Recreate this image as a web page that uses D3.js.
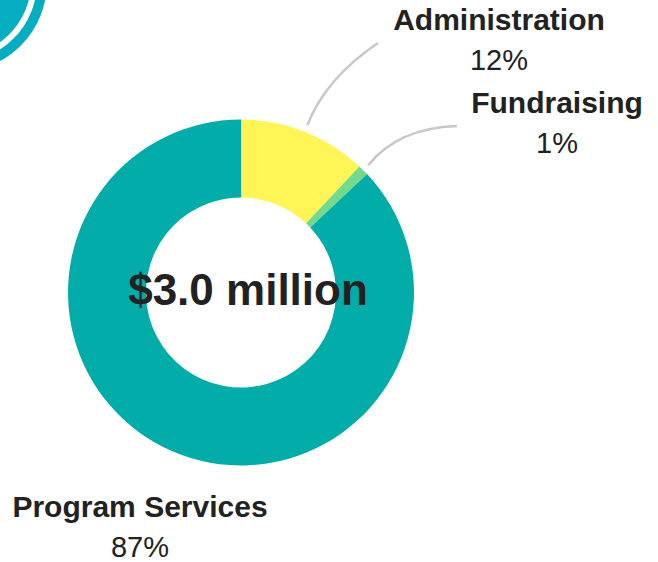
<!DOCTYPE html>
<html>
<head>
<meta charset="utf-8">
<script src="https://cdn.jsdelivr.net/npm/d3@7"></script>
<style>
  html, body { margin: 0; padding: 0; background: #fff; }
  svg { display: block; font-family: "Liberation Sans", Arial, sans-serif; }
</style>
</head>
<body>
<div class="chart"><svg></svg></div>
<script>
"use strict";

const categories = ['Administration', 'Fundraising', 'Program Services'];
const shares = [12, 1, 87];
const pctLabels = ['12%', '1%', '87%'];
const colors = ['#fff556', '#72da8a', '#02ada9'];
const totalLabel = '$3.0 million';

const WIDTH = 658;
const HEIGHT = 562;
const CX = 241, CY = 292.5;
const R_OUT = 173, R_IN = 95;

const svg = d3.select('.chart').select('svg')
    .attr('width', WIDTH)
    .attr('height', HEIGHT);

// decorative circle in the top-left corner
const deco = svg.append('g').attr('transform', 'translate(-43,-18)');
deco.append('circle').attr('r', 74).attr('fill', '#04adc0');
deco.append('circle').attr('r', 85).attr('fill', 'none')
    .attr('stroke', '#04adc0').attr('stroke-width', 10);

const data = categories.map((c, i) => ({name: c, value: shares[i], pct: pctLabels[i], color: colors[i]}));

const pie = d3.pie().sort(null).value(d => d.value);
const arc = d3.arc().innerRadius(R_IN).outerRadius(R_OUT);
const arcs = pie(data);

const gPie = svg.append('g').attr('transform', `translate(${CX},${CY})`);
gPie.selectAll('path')
    .data(arcs)
    .join('path')
    .attr('d', arc)
    .attr('fill', d => d.data.color);

// label positions and connector bends (layout only)
const labelPos = {
    'Administration':   {x: 499, y: 30,  ctrl: [326, 78],  end: [378, 43]},
    'Fundraising':      {x: 557, y: 113, ctrl: [398, 128], end: [457, 126]},
    'Program Services': {x: 140, y: 517}
};

arcs.forEach(d => {
    const p = labelPos[d.data.name];
    if (p.end) {
        // start the connector just outside the slice, at its mid angle
        const mid = (d.startAngle + d.endAngle) / 2;
        const s = [CX + 180 * Math.sin(mid), CY - 180 * Math.cos(mid)];
        const path = d3.path();
        path.moveTo(s[0], s[1]);
        path.quadraticCurveTo(p.ctrl[0], p.ctrl[1], p.end[0], p.end[1]);
        svg.append('path')
            .attr('d', path.toString())
            .attr('fill', 'none')
            .attr('stroke', '#c8c8c8')
            .attr('stroke-width', 2.5);
    }
    svg.append('text')
        .attr('x', p.x)
        .attr('y', p.y)
        .attr('text-anchor', 'middle')
        .attr('font-size', 30)
        .attr('font-weight', 'bold')
        .attr('fill', '#222')
        .text(d.data.name);
    svg.append('text')
        .attr('x', p.x)
        .attr('y', p.y + 40)
        .attr('text-anchor', 'middle')
        .attr('font-size', 29)
        .attr('fill', '#222')
        .text(d.data.pct);
});

svg.append('text')
    .attr('x', 248)
    .attr('y', 305)
    .attr('text-anchor', 'middle')
    .attr('font-size', 44)
    .attr('font-weight', 'bold')
    .attr('fill', '#222')
    .text(totalLabel);
</script>
</body>
</html>
